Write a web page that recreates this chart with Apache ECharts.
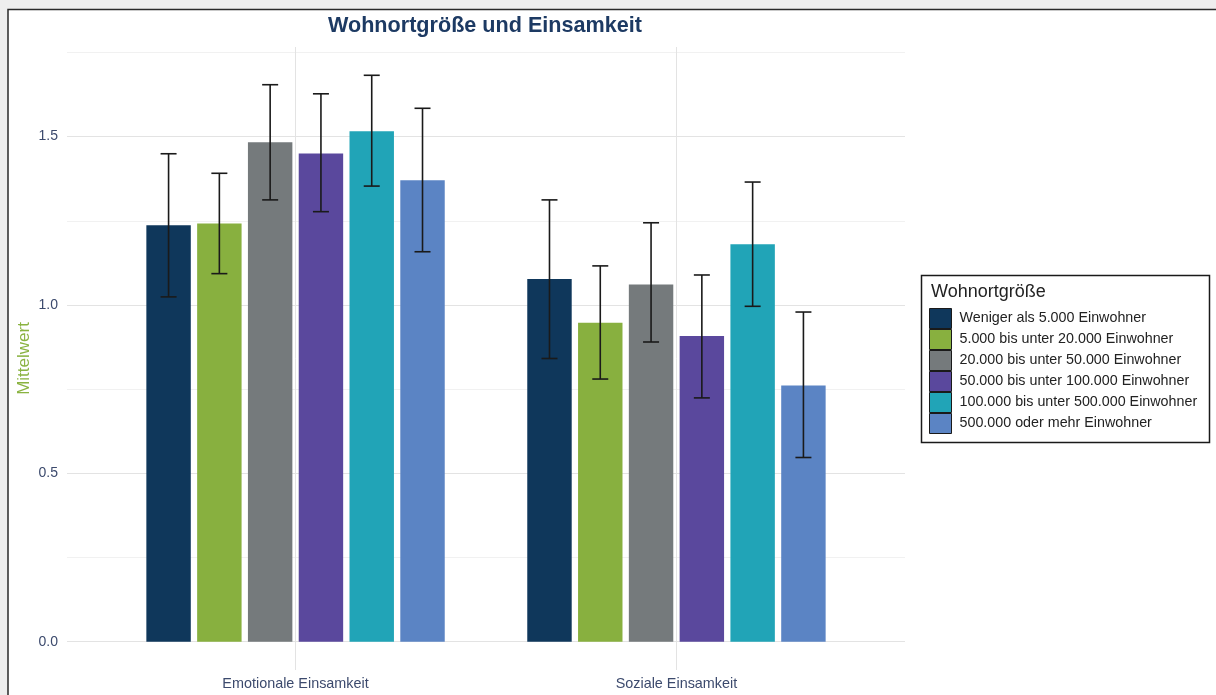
<!DOCTYPE html>
<html>
<head>
<meta charset="utf-8">
<script src="https://cdn.jsdelivr.net/npm/echarts@6/dist/echarts.min.js"></script>
<style>
html,body{margin:0;padding:0;background:#fff;}
#chart{width:1216px;height:695px;}
</style>
</head>
<body>
<div id="chart"></div>
<script>
const categories = ['Emotionale Einsamkeit', 'Soziale Einsamkeit'];
const sizeGroups = [
  'Weniger als 5.000 Einwohner',
  '5.000 bis unter 20.000 Einwohner',
  '20.000 bis unter 50.000 Einwohner',
  '50.000 bis unter 100.000 Einwohner',
  '100.000 bis unter 500.000 Einwohner',
  '500.000 oder mehr Einwohner'
];
const meanEmotional  = [1.237, 1.242, 1.483, 1.450, 1.516, 1.370];
const lowerEmotional = [1.024, 1.093, 1.312, 1.277, 1.353, 1.158];
const upperEmotional = [1.449, 1.391, 1.654, 1.627, 1.682, 1.584];
const meanSocial     = [1.077, 0.947, 1.061, 0.908, 1.180, 0.761];
const lowerSocial    = [0.841, 0.780, 0.890, 0.724, 0.996, 0.547];
const upperSocial    = [1.312, 1.116, 1.244, 1.089, 1.365, 0.979];
const yTickValues  = [0, 0.25, 0.5, 0.75, 1, 1.25, 1.5, 1.75];
const yLabelValues = [0, 0.5, 1, 1.5];
const xTickValues  = [1, 2];

const colors = ['#0f375b', '#88b03f', '#757a7c', '#5a489d', '#21a4b7', '#5b84c4'];
const dodge = 0.8, barFrac = 0.7, capUnits = 0.042;
const FONT = 'Liberation Sans, Arial, sans-serif';

const chart = echarts.init(document.getElementById('chart'));

const series = sizeGroups.map((name, i) => {
  const offset = (i - 2.5) * dodge / sizeGroups.length;
  return {
    name: name,
    type: 'custom',
    itemStyle: { color: colors[i] },
    encode: { x: 0, y: 1 },
    data: [
      [xTickValues[0], meanEmotional[i], lowerEmotional[i], upperEmotional[i]],
      [xTickValues[1], meanSocial[i], lowerSocial[i], upperSocial[i]]
    ],
    renderItem: function (params, api) {
      const cx = api.value(0) + offset;
      const top = api.coord([cx, api.value(1)]);
      const base = api.coord([cx, 0]);
      const lo = api.coord([cx, api.value(2)]);
      const hi = api.coord([cx, api.value(3)]);
      const bw = api.size([barFrac / sizeGroups.length, 0])[0];
      const cw = api.size([capUnits, 0])[0];
      const ls = { stroke: '#1a1a1a', lineWidth: 1.6 };
      return {
        type: 'group',
        children: [
          { type: 'rect', shape: { x: top[0] - bw / 2, y: top[1], width: bw, height: base[1] - top[1] },
            style: { fill: colors[i] } },
          { type: 'line', shape: { x1: hi[0], y1: hi[1], x2: lo[0], y2: lo[1] }, style: ls },
          { type: 'line', shape: { x1: hi[0] - cw / 2, y1: hi[1], x2: hi[0] + cw / 2, y2: hi[1] }, style: ls },
          { type: 'line', shape: { x1: lo[0] - cw / 2, y1: lo[1], x2: lo[0] + cw / 2, y2: lo[1] }, style: ls }
        ]
      };
    }
  };
});

const option = {
  backgroundColor: '#ffffff',
  animation: false,
  textStyle: { fontFamily: FONT },
  title: {
    text: 'Wohnortgröße und Einsamkeit',
    left: 328,
    top: 15,
    padding: 0,
    textStyle: { fontSize: 21.6, fontWeight: 'bold', color: '#1d3a63', fontFamily: FONT }
  },
  grid: { left: 67, right: 311, top: 47, bottom: 25, containLabel: false },
  xAxis: {
    type: 'value',
    min: 0.4,
    max: 2.6,
    axisLine: { show: false },
    axisTick: { show: false, customValues: xTickValues },
    axisLabel: {
      customValues: xTickValues,
      formatter: v => categories[Math.round(v) - 1],
      color: '#3c4a6d',
      fontSize: 14.4,
      margin: 7
    },
    splitLine: { show: true, lineStyle: { color: '#e3e3e3', width: 1 } }
  },
  yAxis: {
    type: 'value',
    min: -0.084,
    max: 1.766,
    name: 'Mittelwert',
    nameLocation: 'middle',
    nameGap: 34,
    nameMoveOverlap: false,
    nameTextStyle: { color: '#8ab341', fontSize: 17 },
    axisLine: { show: false },
    axisTick: { show: false, customValues: yTickValues },
    axisLabel: {
      customValues: yLabelValues,
      formatter: v => v.toFixed(1),
      color: '#3c4a6d',
      fontSize: 14,
      margin: 9
    },
    splitLine: { show: true, lineStyle: { color: ['#e3e3e3', '#f1f1f1'], width: 1 } }
  },
  legend: {
    orient: 'vertical',
    left: 929,
    top: 308,
    padding: 0,
    itemGap: 0,
    itemWidth: 22,
    itemHeight: 20,
    icon: 'rect',
    itemStyle: { borderColor: '#1a1a1a', borderWidth: 1 },
    textStyle: { fontSize: 14.3, color: '#222', padding: [2, 0, 0, 3] },
    data: sizeGroups
  },
  graphic: [
    { type: 'rect', z: 100, shape: { x: 0, y: 0, width: 8, height: 695 }, style: { fill: '#eeeeee' } },
    { type: 'rect', z: 100, shape: { x: 0, y: 0, width: 1216, height: 9 }, style: { fill: '#eeeeee' } },
    { type: 'polyline', z: 101, shape: { points: [[8, 695], [8, 9.5], [1216, 9.5]] }, style: { stroke: '#2a2a2a', lineWidth: 1.5, fill: null } },
    { type: 'rect', z: 100, shape: { x: 921.5, y: 275.5, width: 288, height: 167 }, style: { stroke: '#1a1a1a', lineWidth: 1.5, fill: null } },
    { type: 'text', z: 100, x: 931, y: 292, style: { text: 'Wohnortgröße', fontSize: 18, fill: '#222', verticalAlign: 'middle', fontFamily: FONT } }
  ],
  series: series
};
chart.setOption(option);
</script>
</body>
</html>
